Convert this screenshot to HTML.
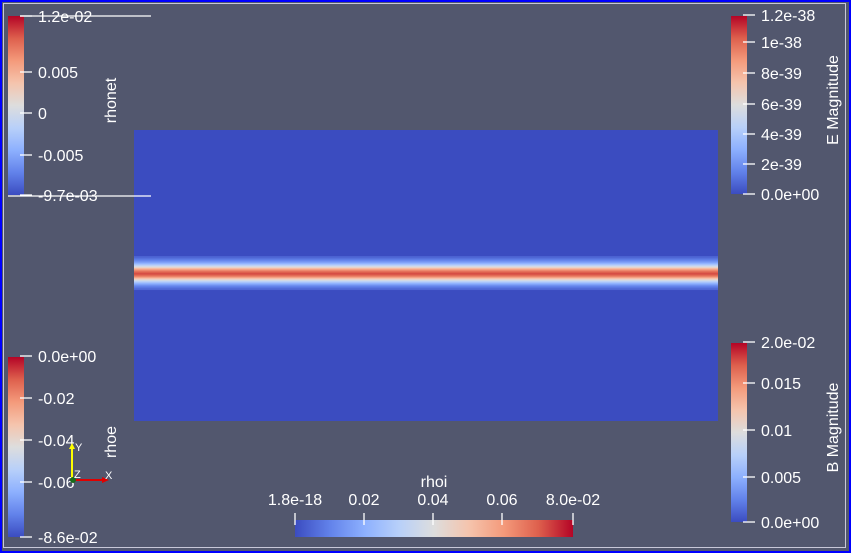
<!DOCTYPE html>
<html><head><meta charset="utf-8">
<style>
html,body{margin:0;padding:0;}
body{width:851px;height:553px;overflow:hidden;background:#52576e;font-family:"Liberation Sans",sans-serif;}
#frame{position:absolute;left:0;top:0;width:847px;height:549px;border:2px solid #0000ff;}
#inner{position:absolute;left:3px;top:3px;width:843px;height:545px;border:1px solid #c8c8d8;box-sizing:border-box;}
svg{position:absolute;left:0;top:0;}
text{fill:#fff;font-family:"Liberation Sans",sans-serif;font-size:16px;}
</style></head><body>
<div id="frame"></div>
<div id="inner"></div>
<svg id="s" width="851" height="553">
<defs>
<linearGradient id="cv" x1="0" y1="1" x2="0" y2="0">
<stop offset="0" stop-color="#3b4cc0"/><stop offset="0.125" stop-color="#6282ea"/>
<stop offset="0.25" stop-color="#8db0fe"/><stop offset="0.375" stop-color="#b8d0f9"/>
<stop offset="0.5" stop-color="#dddddd"/><stop offset="0.625" stop-color="#f5c4ad"/>
<stop offset="0.75" stop-color="#f49a7b"/><stop offset="0.875" stop-color="#de604d"/>
<stop offset="1" stop-color="#b40426"/></linearGradient>
<linearGradient id="ch" x1="0" y1="0" x2="1" y2="0">
<stop offset="0" stop-color="#3b4cc0"/><stop offset="0.125" stop-color="#6282ea"/>
<stop offset="0.25" stop-color="#8db0fe"/><stop offset="0.375" stop-color="#b8d0f9"/>
<stop offset="0.5" stop-color="#dddddd"/><stop offset="0.625" stop-color="#f5c4ad"/>
<stop offset="0.75" stop-color="#f49a7b"/><stop offset="0.875" stop-color="#de604d"/>
<stop offset="1" stop-color="#b40426"/></linearGradient>
</defs>
<g id="plot"></g>
<g id="bars"></g>
<g>
<line x1="72" y1="480" x2="72" y2="446" stroke="#ffff00" stroke-width="2"/>
<polygon points="69,449 75,449 72,443" fill="#ffff00"/>
<text x="75" y="451" style="font-size:11px">Y</text>
<line x1="72" y1="480" x2="106" y2="480" stroke="#e00000" stroke-width="2"/>
<polygon points="102,477 102,483 109,480" fill="#e00000"/>
<text x="105" y="479" style="font-size:11px">X</text>
<circle cx="73" cy="480" r="3" fill="#1a6a1a"/>
<text x="74" y="478" style="font-size:11px">Z</text>
</g>
</svg>
<script>
// rhoi profile across the band (rows from band top to bottom), values 0..0.08
const rowValues = [0.004,0.005,0.007,0.009,0.011,0.014,0.017,0.021,0.026,0.031,0.037,0.044,0.052,0.058,0.063,0.067,0.070,0.072,0.071,0.068,0.064,0.058,0.051,0.044,0.037,0.031,0.026,0.021,0.017,0.013,0.010,0.008,0.006,0.005];
const rhoiMin = 0, rhoiMax = 0.08;
const bandTop = 256; // first row pixel
const stops=[[59,76,192],[98,130,234],[141,176,254],[184,208,249],[221,221,221],[245,196,173],[244,154,123],[222,96,77],[180,4,38]];
function cmap(t){t=Math.max(0,Math.min(1,t));const f=t*8,i=Math.min(7,Math.floor(f)),u=f-i;const a=stops[i],b=stops[i+1];
return 'rgb('+a.map((v,k)=>Math.round(v+(b[k]-v)*u)).join(',')+')';}
const NS='http://www.w3.org/2000/svg';
const plot=document.getElementById('plot');
const px0=134,px1=718,py0=130,py1=421;
const bg=document.createElementNS(NS,'rect');
bg.setAttribute('x',px0);bg.setAttribute('y',py0);bg.setAttribute('width',px1-px0);bg.setAttribute('height',py1-py0);
bg.setAttribute('fill','#3b4cc0');


plot.appendChild(bg);
const yScale=i=>bandTop+i;
rowValues.forEach((v,i)=>{
 const r=document.createElementNS(NS,'rect');
 r.setAttribute('x',px0);r.setAttribute('y',yScale(i));r.setAttribute('width',px1-px0);r.setAttribute('height',1.05);
 r.setAttribute('fill',cmap((v-rhoiMin)/(rhoiMax-rhoiMin)));
 
 
 plot.appendChild(r);
});
const legends=[
 {name:'rhonet-legend',x:8,y0:16,y1:195,title:'rhonet',ticks:['1.2e-02','0.005','0','-0.005','-9.7e-03'],tpos:[16,72,113,155,195],tx:116},
 {name:'rhoe-legend',x:8,y0:357,y1:537,title:'rhoe',ticks:['0.0e+00','-0.02','-0.04','-0.06','-8.6e-02'],tpos:[356,398,440,482,537],tx:116},
 {name:'e-magnitude-legend',x:731,y0:16,y1:194,title:'E Magnitude',ticks:['1.2e-38','1e-38','8e-39','6e-39','4e-39','2e-39','0.0e+00'],tpos:[15,42,73,104,134,164,194],tx:838},
 {name:'b-magnitude-legend',x:731,y0:343,y1:522,title:'B Magnitude',ticks:['2.0e-02','0.015','0.01','0.005','0.0e+00'],tpos:[342,383,430,477,522],tx:838}
];
const bars=document.getElementById('bars');
function el(tag,attrs,parent){const e=document.createElementNS(NS,tag);for(const k in attrs)e.setAttribute(k,attrs[k]);parent.appendChild(e);return e;}
legends.forEach(L=>{
 const g=el('g',{},bars);
 
 
 el('rect',{x:L.x,y:L.y0,width:16,height:L.y1-L.y0,fill:'url(#cv)'},g);
 L.ticks.forEach((t,i)=>{
  el('line',{x1:L.x+12,x2:L.x+24,y1:L.tpos[i],y2:L.tpos[i],stroke:'#fff','stroke-width':1.3},g);
  const tx=el('text',{x:L.x+30,y:L.tpos[i]+6},g);tx.textContent=t;
 });
 const cy=(L.y0+L.y1)/2-5;
 const tt=el('text',{x:L.tx,y:cy,transform:'rotate(-90 '+L.tx+' '+cy+')','text-anchor':'middle'},g);
 tt.textContent=L.title;
});
el('line',{x1:20,x2:151,y1:16,y2:16,stroke:'#fff','stroke-width':1.3},bars);
el('line',{x1:8,x2:151,y1:196,y2:196,stroke:'#fff','stroke-width':1.3},bars);
const hg=el('g',{},bars);


el('rect',{x:295,y:520,width:278,height:17,fill:'url(#ch)'},hg);
const hticks=['1.8e-18','0.02','0.04','0.06','8.0e-02'];
const hpos=[295,364,433,502,573];
hticks.forEach((t,i)=>{
 el('line',{x1:hpos[i],x2:hpos[i],y1:513,y2:525,stroke:'#fff','stroke-width':1.3},hg);
 const tx=el('text',{x:hpos[i],y:505,'text-anchor':'middle'},hg);tx.textContent=t;
});
const ht=el('text',{x:434,y:487,'text-anchor':'middle'},hg);ht.textContent='rhoi';
</script>
</body></html>
